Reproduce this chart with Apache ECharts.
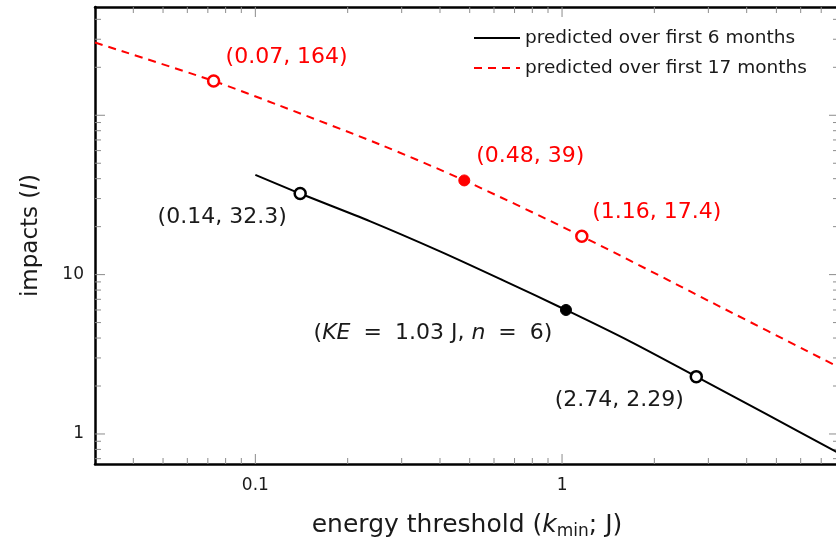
<!DOCTYPE html>
<html>
<head>
<meta charset="utf-8">
<script src="https://cdn.jsdelivr.net/npm/echarts@6/dist/echarts.min.js"></script>
<style>
html,body{margin:0;padding:0;background:#fff;}
#chart{width:836px;height:540px;}
</style>
</head>
<body>
<div id="chart"></div>
<script>
// ---- data ----
const seriesNames = ['predicted over first 6 months', 'predicted over first 17 months'];
const sixX = [0.1, 0.14, 0.237, 0.4, 0.64, 1.03, 1.665, 2.74, 4.64, 8];
const sixY = [42.3, 32.3, 21.6, 14.0, 9.24, 6.0, 3.81, 2.29, 1.331, 0.758];
const seventeenX = [0.03, 0.0731, 0.1206, 0.255, 0.48, 1.16, 3.11, 8];
const seventeenY = [286, 164, 114.5, 65.5, 39, 17.4, 6.62, 2.62];

const sixMarkX = [0.14, 1.03, 2.74];
const sixMarkY = [32.3, 6, 2.29];
const sixMarkFilled = [false, true, false];
const sixMarkText = ['(0.14, 32.3)', '({it|KE}{eq|=}1.03 J, {it|n}{eq|=}6)', '(2.74, 2.29)'];

const seventeenMarkX = [0.0731, 0.48, 1.16];
const seventeenMarkY = [164, 39, 17.4];
const seventeenMarkFilled = [false, true, false];
const seventeenMarkText = ['(0.07, 164)', '(0.48, 39)', '(1.16, 17.4)'];

const xMajorTicks = [0.1, 1];
const xMinorTicks = [0.04,0.05,0.06,0.07,0.08,0.09,0.2,0.3,0.4,0.5,0.6,0.7,0.8,0.9,2,3,4,5,6,7];
const xTickLabels = {'0.1':'0.1', '1':'1'};
const yMajorTicks = [1, 10, 100];
const yMinorTicks = [0.7,0.8,0.9,2,3,4,5,6,7,8,9,20,30,40,50,60,70,80,90,200,300,400];
const yTickLabels = {'1':'1', '10':'10'};

// ---- layout ----
const FONT = 'DejaVu Sans';
const RED = '#ff0000';
const INK = '#1a1a1a';
const sixOffsets = [[-78, 24], [-133, 23], [-77, 24]];
const seventeenOffsets = [[73, -24], [66, -24], [75, -24]];

function findLabel(map, v) {
  for (const k in map) { if (Math.abs(Math.log10(v) - Math.log10(parseFloat(k))) < 1e-6) return map[k]; }
  return '';
}
function zip(a, b) { return a.map((v, i) => [v, b[i]]); }

function markData(xs, ys, filled, texts, offs, color) {
  return xs.map((x, i) => ({
    value: [x, ys[i]],
    itemStyle: filled[i] ? {color: color, borderColor: color, borderWidth: 1, opacity: 1}
                         : {color: '#fff', borderColor: color, borderWidth: 2.5, opacity: 1},
    label: {show: true, formatter: texts[i], offset: offs[i]}
  }));
}

const tickColor = '#8c8c8c';
function xTickRender(params, api) {
  const cs = params.coordSys;
  const p = api.coord([api.value(0), 1]);
  const len = api.value(2);
  const style = {stroke: tickColor, lineWidth: 1};
  return {type: 'group', children: [
    {type: 'line', shape: {x1: p[0], y1: cs.y + cs.height, x2: p[0], y2: cs.y + cs.height - len}, style: style},
    {type: 'line', shape: {x1: p[0], y1: cs.y, x2: p[0], y2: cs.y + len}, style: style}
  ]};
}
function yTickRender(params, api) {
  const cs = params.coordSys;
  const p = api.coord([1, api.value(1)]);
  const len = api.value(2);
  const style = {stroke: tickColor, lineWidth: 1};
  return {type: 'group', children: [
    {type: 'line', shape: {x1: cs.x, y1: p[1], x2: cs.x + len, y2: p[1]}, style: style},
    {type: 'line', shape: {x1: cs.x + cs.width, y1: p[1], x2: cs.x + cs.width - len, y2: p[1]}, style: style}
  ]};
}

const xTickData = xMajorTicks.map(v => [v, 1, 10]).concat(xMinorTicks.map(v => [v, 1, 6]));
const yTickData = yMajorTicks.map(v => [1, v, 10]).concat(yMinorTicks.map(v => [1, v, 6]));

const labelBase = {
  position: 'inside', align: 'center', verticalAlign: 'middle',
  fontFamily: FONT, fontSize: 22
};

const chart = echarts.init(document.getElementById('chart'), null, {renderer: 'canvas'});
chart.setOption({
  animation: false,
  backgroundColor: '#fff',
  grid: {left: 95, top: 7, width: 744, height: 457, containLabel: false, outerBoundsMode: 'none'},
  legend: {
    data: seriesNames,
    orient: 'vertical',
    left: 473, top: 27, padding: 0,
    itemWidth: 46, itemHeight: 14, itemGap: 8,
    itemStyle: {opacity: 0},
    textStyle: {fontFamily: FONT, fontSize: 18.5, color: INK, lineHeight: 22},
    selectedMode: false
  },
  xAxis: [{
    type: 'log', min: 0.03, max: 8,
    axisLine: {show: true, lineStyle: {color: '#000', width: 2.5}},
    axisTick: {show: false}, splitLine: {show: false},
    axisLabel: {formatter: v => findLabel(xTickLabels, v), fontFamily: FONT, fontSize: 17, color: INK, margin: 13, showMinLabel: true, showMaxLabel: true},
    name: 'energy threshold ({it|k}{sub|min}; J)',
    nameLocation: 'middle', nameGap: 46,
    nameTextStyle: {fontFamily: FONT, fontSize: 25, color: INK,
      rich: {it: {fontFamily: FONT, fontSize: 25, fontStyle: 'italic', color: INK},
             sub: {fontFamily: FONT, fontSize: 17, color: INK, padding: [13, 0, 0, 0]}}}
  }, {
    type: 'log', min: 0.03, max: 8, position: 'top',
    axisLine: {show: true, lineStyle: {color: '#000', width: 2.5}},
    axisTick: {show: false}, axisLabel: {show: false}, splitLine: {show: false}
  }],
  yAxis: [{
    type: 'log', min: 0.648, max: 478,
    axisLine: {show: true, lineStyle: {color: '#000', width: 2.5}},
    axisTick: {show: false}, splitLine: {show: false},
    axisLabel: {formatter: v => findLabel(yTickLabels, v), fontFamily: FONT, fontSize: 17, color: INK, margin: 11},
    name: 'impacts ({it|I})',
    nameLocation: 'middle', nameGap: 52,
    nameTextStyle: {fontFamily: FONT, fontSize: 23, color: INK,
      rich: {it: {fontFamily: FONT, fontSize: 23, fontStyle: 'italic', color: INK}}}
  }, {
    type: 'log', min: 0.648, max: 478, position: 'right',
    axisLine: {show: true, lineStyle: {color: '#000', width: 2.5}},
    axisTick: {show: false}, axisLabel: {show: false}, splitLine: {show: false}
  }],
  series: [
    {type: 'custom', name: 'xticks', data: xTickData, renderItem: xTickRender, clip: false, silent: true, z: 1, encode: {x: 0, y: 1}},
    {type: 'custom', name: 'yticks', data: yTickData, renderItem: yTickRender, clip: false, silent: true, z: 1, encode: {x: 0, y: 1}},
    {type: 'line', name: seriesNames[0], data: zip(sixX, sixY), symbol: 'none', smooth: 0.3,
      lineStyle: {color: '#000', width: 2}, itemStyle: {color: '#000'}, z: 3},
    {type: 'line', name: seriesNames[1], data: zip(seventeenX, seventeenY), symbol: 'none', smooth: 0.3,
      lineStyle: {color: RED, width: 2, type: [8, 6]}, itemStyle: {color: RED}, z: 3},
    {type: 'scatter', name: 'm6', symbol: 'circle', symbolSize: 11, z: 5,
      itemStyle: {opacity: 1},
      label: Object.assign({}, labelBase, {color: INK, rich: {
        it: {fontFamily: FONT, fontSize: 22, fontStyle: 'italic', color: INK},
        eq: {fontFamily: FONT, fontSize: 22, color: INK, padding: [0, 13, 0, 13]}}}),
      data: markData(sixMarkX, sixMarkY, sixMarkFilled, sixMarkText, sixOffsets, '#000')},
    {type: 'scatter', name: 'm17', symbol: 'circle', symbolSize: 11, z: 5,
      itemStyle: {opacity: 1},
      label: Object.assign({}, labelBase, {color: RED}),
      data: markData(seventeenMarkX, seventeenMarkY, seventeenMarkFilled, seventeenMarkText, seventeenOffsets, RED)}
  ]
});
</script>
</body>
</html>
